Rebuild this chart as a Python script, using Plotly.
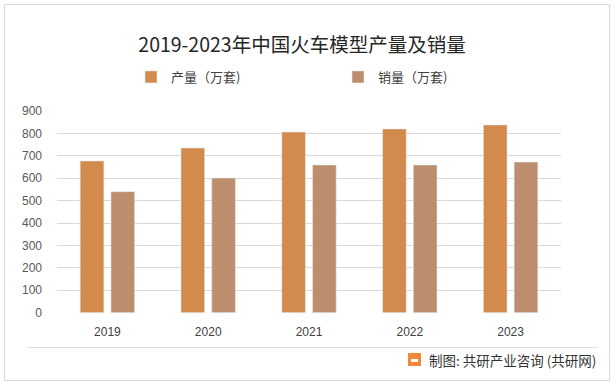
import plotly.graph_objects as go

years = ["2019", "2020", "2021", "2022", "2023"]
production = [677, 735, 806, 820, 838]
sales = [540, 601, 659, 659, 672]
series_names = ["产量（万套)", "销量（万套)"]
y_ticks = [0, 100, 200, 300, 400, 500, 600, 700, 800, 900]
title_text = "2019-2023年中国火车模型产量及销量"
footer_text = "制图: 共研产业咨询 (共研网)"

W, H = 616, 386
def px(x):
    return x / W
def py(y):
    return 1 - y / H

fig = go.Figure()
fig.add_trace(go.Bar(x=years, y=production, name=series_names[0], marker_color="#D38B4D"))
fig.add_trace(go.Bar(x=years, y=sales, name=series_names[1], marker_color="#BC8E6D"))

font_cjk = "Noto Sans CJK SC, Noto Sans, sans-serif"
fig.update_layout(
    width=W, height=H,
    margin=dict(l=0, r=0, t=0, b=0, autoexpand=False),
    paper_bgcolor="white", plot_bgcolor="white",
    barmode="group", bargap=0.39, bargroupgap=0.23,
    title=dict(text=title_text, x=px(302), y=py(45), xanchor="center", yanchor="middle",
               font=dict(family=font_cjk, size=19.5, color="#262626")),
    legend=dict(orientation="h", x=px(131), y=py(77), xanchor="left", yanchor="middle",
                entrywidth=162, entrywidthmode="pixels", itemwidth=30,
                font=dict(family=font_cjk, size=13, color="#404040"),
                bgcolor="rgba(0,0,0,0)"),
    xaxis=dict(domain=[px(57), px(561)], showgrid=False, showline=False, ticks="",
               tickfont=dict(family="Liberation Sans, Arial, sans-serif", size=12, color="#404040"),
               ticklabelstandoff=10),
    yaxis=dict(domain=[py(312.7), py(111)], range=[0, 900], tickvals=y_ticks,
               showgrid=True, gridcolor="#D9D9D9", gridwidth=1, zeroline=False, showline=False,
               ticks="", tickfont=dict(family="Liberation Sans, Arial, sans-serif", size=12, color="#595959"),
               ticklabelstandoff=14),
    shapes=[
        dict(type="rect", xref="paper", yref="paper", x0=px(4.5), x1=px(609.5), y0=py(380.5), y1=py(4.5),
             line=dict(color="#D9D9D9", width=1), fillcolor="rgba(0,0,0,0)", layer="below"),
        dict(type="line", xref="paper", yref="paper", x0=px(27), x1=px(598), y0=py(347.5), y1=py(347.5),
             line=dict(color="#E0E0E0", width=1)),
        dict(type="rect", xref="paper", yref="paper", x0=px(408), x1=px(421), y0=py(366), y1=py(353),
             line=dict(width=0), fillcolor="#F2893A"),
        dict(type="rect", xref="paper", yref="paper", x0=px(411), x1=px(418), y0=py(362), y1=py(359),
             line=dict(width=0), fillcolor="white"),
    ],
    annotations=[
        dict(text=footer_text, xref="paper", yref="paper", x=px(598), y=py(359.5), xanchor="right",
             yanchor="middle", showarrow=False, font=dict(family=font_cjk, size=13.5, color="#333333")),
    ],
)

fig.write_html("out.html", config={"displayModeBar": False},
               post_script="document.body.style.margin='0';")
